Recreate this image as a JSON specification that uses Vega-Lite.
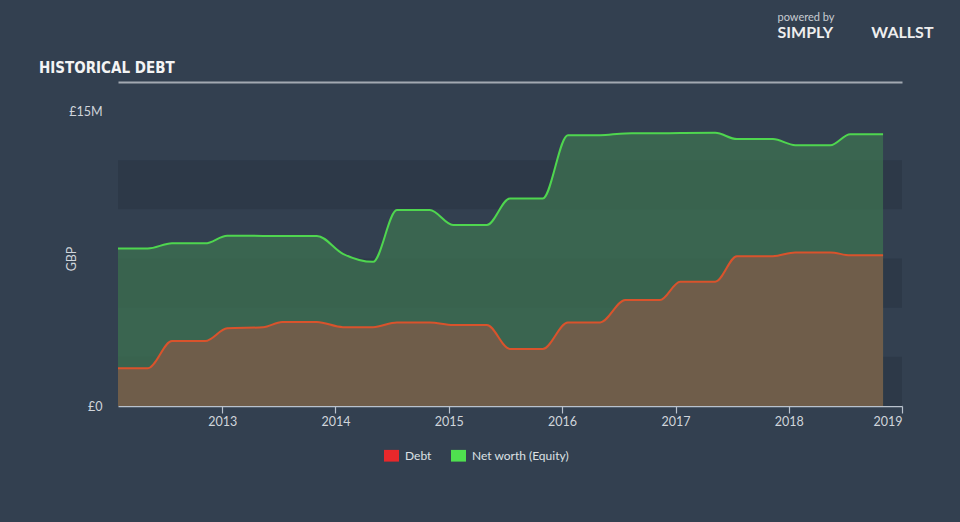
{
  "$schema": "https://vega.github.io/schema/vega-lite/v6.json",
  "width": 784,
  "height": 295,
  "autosize": {"type": "none"},
  "padding": {"left": 118, "top": 111, "right": 58, "bottom": 116},
  "background": "#334050",
  "title": {
    "text": "HISTORICAL DEBT",
    "anchor": "start",
    "frame": "group",
    "dx": -79,
    "dy": 71,
    "font": "DejaVu Sans Condensed, Liberation Sans Narrow, sans-serif",
    "fontSize": 15,
    "fontWeight": "bold",
    "color": "#f4f4f4",
    "offset": 6
  },
  "datasets": {
    "bands": [
      {"lo": 0, "hi": 2500000},
      {"lo": 5000000, "hi": 7500000},
      {"lo": 10000000, "hi": 12500000}
    ],
    "hist": [
      {"date": "2012-01-31", "series": "Net worth (Equity)", "value": 8010000},
      {"date": "2012-05-06", "series": "Net worth (Equity)", "value": 8010000},
      {"date": "2012-07-23", "series": "Net worth (Equity)", "value": 8270000},
      {"date": "2012-11-07", "series": "Net worth (Equity)", "value": 8270000},
      {"date": "2013-01-17", "series": "Net worth (Equity)", "value": 8660000},
      {"date": "2013-05-13", "series": "Net worth (Equity)", "value": 8650000},
      {"date": "2013-07-13", "series": "Net worth (Equity)", "value": 8650000},
      {"date": "2013-11-02", "series": "Net worth (Equity)", "value": 8650000},
      {"date": "2014-01-25", "series": "Net worth (Equity)", "value": 7740000},
      {"date": "2014-05-02", "series": "Net worth (Equity)", "value": 7330000},
      {"date": "2014-07-18", "series": "Net worth (Equity)", "value": 9960000},
      {"date": "2014-11-01", "series": "Net worth (Equity)", "value": 9960000},
      {"date": "2015-01-15", "series": "Net worth (Equity)", "value": 9200000},
      {"date": "2015-05-04", "series": "Net worth (Equity)", "value": 9200000},
      {"date": "2015-07-17", "series": "Net worth (Equity)", "value": 10550000},
      {"date": "2015-10-31", "series": "Net worth (Equity)", "value": 10550000},
      {"date": "2016-01-20", "series": "Net worth (Equity)", "value": 13770000},
      {"date": "2016-05-03", "series": "Net worth (Equity)", "value": 13770000},
      {"date": "2016-07-23", "series": "Net worth (Equity)", "value": 13860000},
      {"date": "2016-11-12", "series": "Net worth (Equity)", "value": 13870000},
      {"date": "2017-01-16", "series": "Net worth (Equity)", "value": 13880000},
      {"date": "2017-05-09", "series": "Net worth (Equity)", "value": 13890000},
      {"date": "2017-07-18", "series": "Net worth (Equity)", "value": 13570000},
      {"date": "2017-11-11", "series": "Net worth (Equity)", "value": 13570000},
      {"date": "2018-01-22", "series": "Net worth (Equity)", "value": 13260000},
      {"date": "2018-05-15", "series": "Net worth (Equity)", "value": 13260000},
      {"date": "2018-07-18", "series": "Net worth (Equity)", "value": 13820000},
      {"date": "2018-11-01", "series": "Net worth (Equity)", "value": 13820000},
      {"date": "2012-01-31", "series": "Debt", "value": 1920000},
      {"date": "2012-05-06", "series": "Debt", "value": 1920000},
      {"date": "2012-07-23", "series": "Debt", "value": 3300000},
      {"date": "2012-11-07", "series": "Debt", "value": 3300000},
      {"date": "2013-01-17", "series": "Debt", "value": 3950000},
      {"date": "2013-05-13", "series": "Debt", "value": 4000000},
      {"date": "2013-07-13", "series": "Debt", "value": 4270000},
      {"date": "2013-11-02", "series": "Debt", "value": 4270000},
      {"date": "2014-01-25", "series": "Debt", "value": 4010000},
      {"date": "2014-05-02", "series": "Debt", "value": 4010000},
      {"date": "2014-07-18", "series": "Debt", "value": 4250000},
      {"date": "2014-11-01", "series": "Debt", "value": 4250000},
      {"date": "2015-01-15", "series": "Debt", "value": 4120000},
      {"date": "2015-05-04", "series": "Debt", "value": 4120000},
      {"date": "2015-07-17", "series": "Debt", "value": 2900000},
      {"date": "2015-10-31", "series": "Debt", "value": 2900000},
      {"date": "2016-01-20", "series": "Debt", "value": 4250000},
      {"date": "2016-05-03", "series": "Debt", "value": 4250000},
      {"date": "2016-07-23", "series": "Debt", "value": 5390000},
      {"date": "2016-11-12", "series": "Debt", "value": 5390000},
      {"date": "2017-01-16", "series": "Debt", "value": 6320000},
      {"date": "2017-05-09", "series": "Debt", "value": 6320000},
      {"date": "2017-07-18", "series": "Debt", "value": 7620000},
      {"date": "2017-11-11", "series": "Debt", "value": 7620000},
      {"date": "2018-01-22", "series": "Debt", "value": 7810000},
      {"date": "2018-05-15", "series": "Debt", "value": 7810000},
      {"date": "2018-07-18", "series": "Debt", "value": 7660000},
      {"date": "2018-11-01", "series": "Debt", "value": 7660000}
    ]
  },
  "layer": [
    {
      "data": {"name": "bands"},
      "mark": {"type": "rect", "fill": "#2d3948"},
      "encoding": {
        "y": {
          "field": "lo",
          "type": "quantitative",
          "scale": {"domain": [0, 15000000], "nice": false, "zero": true},
          "axis": {
            "orient": "right",
            "domain": false,
            "ticks": false,
            "labels": false,
            "grid": false,
            "title": "SIMPLY\u00a0\u00a0\u00a0\u00a0\u00a0\u00a0\u00a0\u00a0\u00a0\u00a0WALLST",
            "titleAngle": 0,
            "titleX": -125,
            "titleY": -79,
            "titleAlign": "left",
            "titleBaseline": "middle",
            "titleFont": "Lato",
            "titleFontSize": 16,
            "titleFontWeight": "bold",
            "titleColor": "#eeeeee"
          }
        },
        "y2": {"field": "hi"}
      }
    },
    {
      "data": {"name": "hist"},
      "transform": [{"filter": "datum.series === 'Net worth (Equity)'"}],
      "mark": {
        "type": "area",
        "interpolate": "monotone",
        "fill": "#3c6e50",
        "fillOpacity": 0.8,
        "line": {"stroke": "#4fd64f", "strokeWidth": 2}
      },
      "encoding": {
        "x": {
          "field": "date",
          "type": "temporal",
          "scale": {"domain": [{"year": 2012, "month": 1, "date": 31}, {"year": 2019, "month": 1, "date": 1}]},
          "axis": {
            "orient": "bottom",
            "values": [{"year": 2013}, {"year": 2014}, {"year": 2015}, {"year": 2016}, {"year": 2017}, {"year": 2018}, {"year": 2019}],
            "format": "%Y",
            "grid": false,
            "domain": true,
            "domainColor": "#b9c2cd",
            "domainWidth": 1.5,
            "ticks": true,
            "tickColor": "#b9c2cd",
            "tickSize": 7,
            "tickWidth": 1.2,
            "labelFlush": true,
            "labelPadding": 2,
            "labelFont": "Lato",
            "labelFontSize": 12.5,
            "labelColor": "#d0d5db",
            "title": null
          }
        },
        "y": {
          "field": "value",
          "type": "quantitative",
          "scale": {"domain": [0, 15000000], "nice": false, "zero": true},
          "axis": {
            "orient": "left",
            "values": [0, 15000000],
            "labelExpr": "datum.value == 0 ? '£0' : '£15M'",
            "grid": false,
            "domain": false,
            "ticks": false,
            "labelPadding": 16,
            "labelFont": "Lato",
            "labelFontSize": 12.5,
            "labelColor": "#d0d5db",
            "title": "GBP",
            "titleFont": "Lato",
            "titleFontSize": 12.5,
            "titleFontWeight": "normal",
            "titleColor": "#d0d5db",
            "titleX": -40,
            "titleY": 147.5
          }
        }
      }
    },
    {
      "data": {"name": "hist"},
      "transform": [{"filter": "datum.series === 'Debt'"}],
      "mark": {
        "type": "area",
        "interpolate": "monotone",
        "fill": "#6f5d4a",
        "fillOpacity": 1,
        "line": {"stroke": "#d9532c", "strokeWidth": 2}
      },
      "encoding": {
        "x": {"field": "date", "type": "temporal", "axis": null},
        "y": {"field": "value", "type": "quantitative", "axis": null}
      }
    },
    {
      "data": {"name": "hist"},
      "mark": {"type": "square", "size": 0, "opacity": 1, "filled": true},
      "encoding": {
        "x": {
          "field": "date",
          "type": "temporal",
          "axis": {
            "orient": "top",
            "offset": 29,
            "domain": true,
            "domainColor": "#a3a9b2",
            "domainWidth": 2,
            "ticks": false,
            "labels": false,
            "grid": false,
            "title": "powered by",
            "titleX": 659,
            "titleY": -65,
            "titleAlign": "left",
            "titleBaseline": "middle",
            "titleFont": "Lato",
            "titleFontSize": 11,
            "titleFontWeight": "normal",
            "titleColor": "#c8ccd2"
          }
        },
        "y": {"field": "value", "type": "quantitative", "axis": null},
        "color": {
          "field": "series",
          "type": "nominal",
          "scale": {"domain": ["Debt", "Net worth (Equity)"], "range": ["#e8282b", "#4fe04f"]},
          "legend": {
            "orient": "none",
            "legendX": 266,
            "legendY": 337,
            "direction": "horizontal",
            "title": null,
            "symbolType": "M-1,-0.78L1,-0.78L1,0.78L-1,0.78Z",
            "symbolSize": 225,
            "symbolStrokeWidth": 0,
            "symbolOpacity": 1,
            "labelColor": "#dde0e4",
            "labelFont": "Lato",
            "labelFontSize": 12,
            "labelOffset": 6,
            "columnPadding": 19,
            "padding": 0
          }
        }
      }
    }
  ],
  "resolve": {"axis": {"x": "independent", "y": "independent"}},
  "config": {
    "view": {"stroke": null},
    "font": "Lato"
  }
}
